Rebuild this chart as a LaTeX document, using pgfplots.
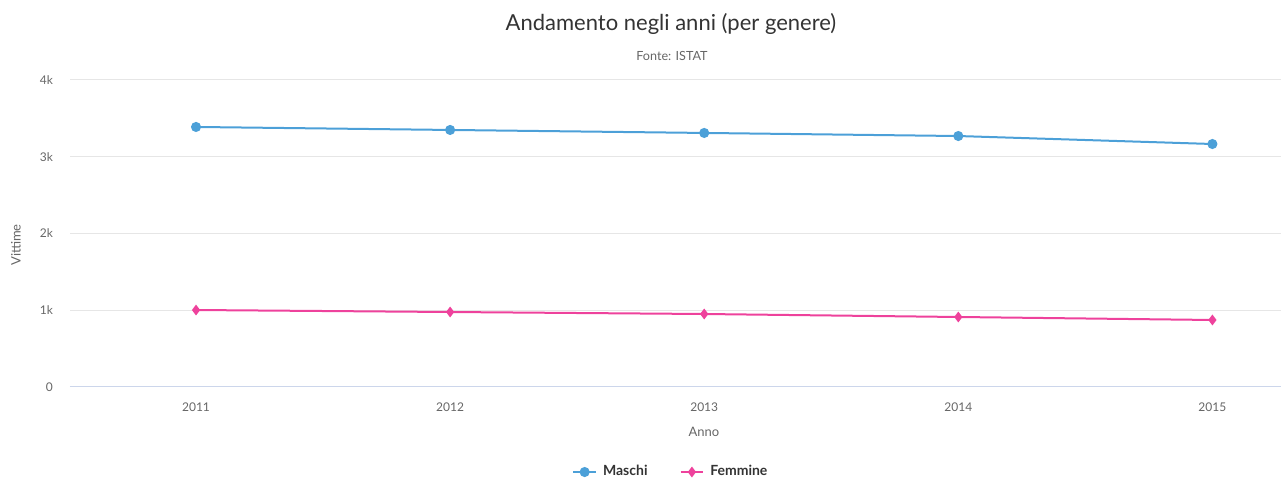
\documentclass[border=0pt]{standalone}
\usepackage{pgfplots}
\pgfplotsset{compat=1.18}
\usepackage{fontspec}
\setmainfont{Lato}
\definecolor{cblue}{RGB}{76,160,216}
\definecolor{cpink}{RGB}{238,66,156}
\definecolor{cgrid}{RGB}{230,230,230}
\definecolor{caxis}{RGB}{204,214,235}
\definecolor{ctick}{RGB}{102,102,102}
\definecolor{ctitle}{RGB}{51,51,51}
\begin{document}
\begin{tikzpicture}
\useasboundingbox (-35pt,-46.5pt) rectangle (605.5pt,193.5pt);
\begin{axis}[
  at={(0,0)}, anchor=south west,
  scale only axis, width=605.5pt, height=153.5pt,
  xmin=-0.496, xmax=4.27, ymin=0, ymax=4000,
  xtick={0,1,2,3,4}, xticklabels={2011,2012,2013,2014,2015},
  ytick={0,1000,2000,3000,4000}, yticklabels={0,1k,2k,3k,4k},
  axis x line*=bottom, axis y line*=left,
  x axis line style={draw=caxis, line width=0.5pt, -},
  y axis line style={draw=none},
  major tick length=0pt,
  ymajorgrids, grid style={draw=cgrid, line width=0.5pt},
  tick label style={font=\fontsize{6}{7}\selectfont, text=ctick},
  xticklabel style={yshift=-4.5pt},
  yticklabel style={xshift=-5pt},
  /pgf/number format/assume math mode=true,
  clip=false,
  legend image code/.code={\draw[mark repeat=2,mark phase=2] plot coordinates {(0cm,0cm) (0.2cm,0cm) (0.4cm,0cm)};},
  legend style={draw=none, fill=none, at={(0.497,-0.277)}, anchor=center,
    legend columns=2, font=\fontsize{7}{8}\selectfont\bfseries\color{ctitle},
    /tikz/every odd column/.append style={column sep=1pt},
    /tikz/every even column/.append style={column sep=14pt}},
  legend cell align=left,
]
\addplot[cblue, line width=1pt, mark=*, mark size=2pt, mark options={solid, fill=cblue, draw=cblue}]
  coordinates {(0,3388) (1,3349) (2,3310) (3,3270) (4,3166)};
\addlegendentry{Maschi}
\addplot[cpink, line width=1pt, mark=diamond*, mark size=1.9pt, mark options={solid, fill=cpink, draw=cpink}]
  coordinates {(0,1003) (1,977) (2,951) (3,912) (4,873)};
\addlegendentry{Femmine}
\end{axis}
\node[font=\fontsize{11}{12}\selectfont, text=ctitle] at (300.5pt,181.5pt) {Andamento negli anni (per genere)};
\node[font=\fontsize{6.3}{7}\selectfont, text=ctick] at (301pt,165.5pt) {Fonte: ISTAT};
\node[font=\fontsize{6.5}{7}\selectfont, text=ctick] at (317pt,-22.5pt) {Anno};
\node[font=\fontsize{6.5}{7}\selectfont, text=ctick, rotate=90] at (-27pt,71pt) {Vittime};
\end{tikzpicture}
\end{document}
